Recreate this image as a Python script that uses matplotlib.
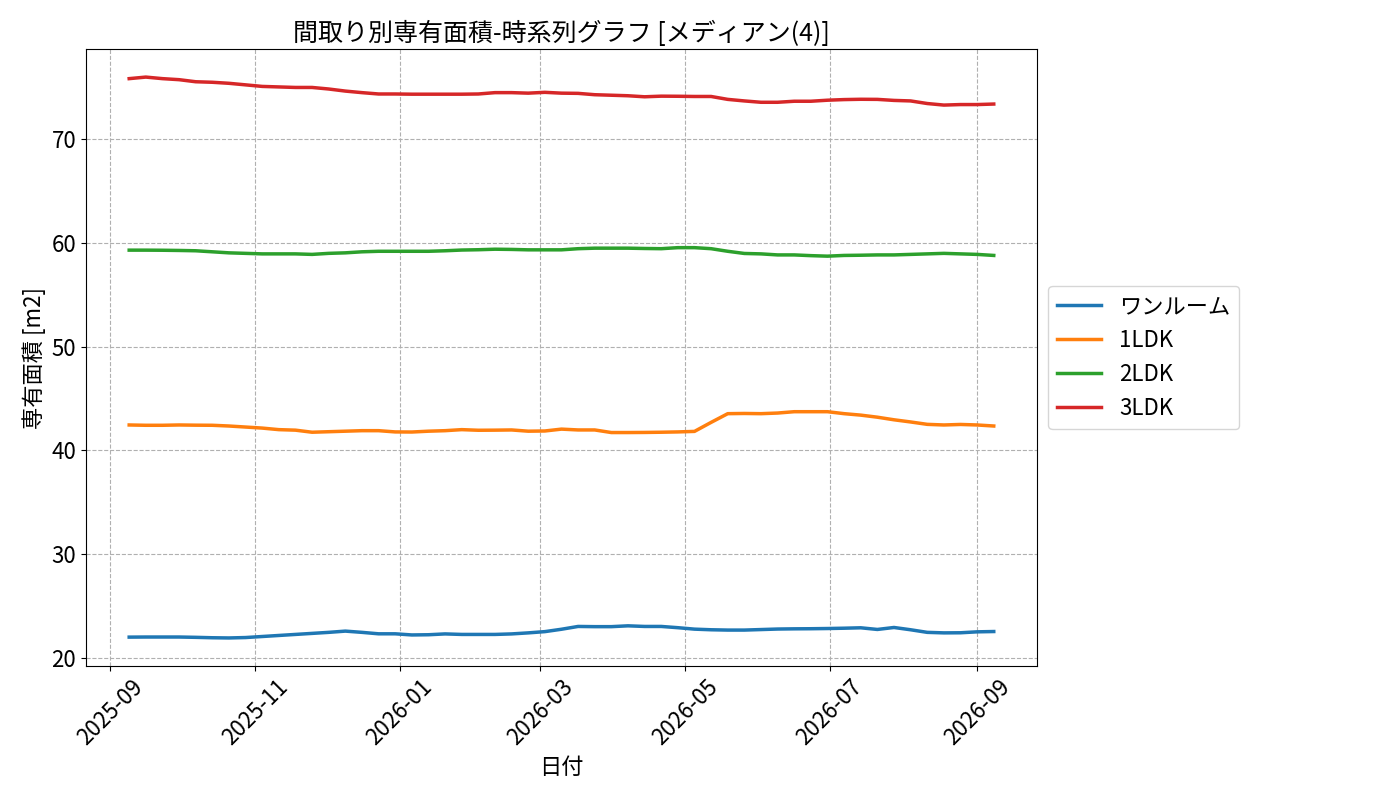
import matplotlib
matplotlib.use("Agg")
import matplotlib.pyplot as plt
import matplotlib.dates as mdates
import pandas as pd

plt.rcParams['font.family'] = ['Noto Sans CJK JP', 'DejaVu Sans']

dates = pd.date_range("2025-09-09", periods=53, freq="7D")

series_names = ["ワンルーム", "1LDK", "2LDK", "3LDK"]

one_room = [21.99, 22.0, 22.0, 22.0, 21.97, 21.93, 21.91, 21.95, 22.05, 22.15,
            22.25, 22.35, 22.45, 22.57, 22.45, 22.31, 22.31, 22.2, 22.22, 22.3,
            22.25, 22.25, 22.25, 22.3, 22.4, 22.52, 22.75, 23.02, 23.0, 23.0,
            23.08, 23.02, 23.02, 22.9, 22.76, 22.7, 22.67, 22.67, 22.72, 22.77,
            22.79, 22.8, 22.82, 22.85, 22.89, 22.73, 22.92, 22.7, 22.45, 22.4,
            22.41, 22.5, 22.53]

ldk1 = [42.45, 42.42, 42.42, 42.45, 42.43, 42.42, 42.35, 42.25, 42.15, 42.0,
        41.95, 41.75, 41.8, 41.85, 41.9, 41.9, 41.78, 41.77, 41.85, 41.9,
        42.0, 41.94, 41.95, 41.97, 41.85, 41.87, 42.05, 41.97, 41.97, 41.72,
        41.72, 41.73, 41.75, 41.78, 41.83, 42.7, 43.54, 43.56, 43.54, 43.6,
        43.73, 43.73, 43.73, 43.54, 43.4, 43.2, 42.95, 42.74, 42.51, 42.45,
        42.5, 42.45, 42.35]

ldk2 = [59.31, 59.31, 59.3, 59.28, 59.25, 59.15, 59.05, 59.0, 58.95, 58.95,
        58.95, 58.9, 59.0, 59.05, 59.15, 59.2, 59.2, 59.2, 59.2, 59.25,
        59.32, 59.35, 59.4, 59.38, 59.34, 59.34, 59.34, 59.45, 59.5, 59.5,
        59.5, 59.47, 59.45, 59.55, 59.55, 59.45, 59.2, 58.99, 58.95, 58.85,
        58.85, 58.78, 58.73, 58.8, 58.82, 58.85, 58.85, 58.9, 58.95, 59.0,
        58.95, 58.9, 58.8]

ldk3 = [75.85, 76.0, 75.85, 75.75, 75.55, 75.5, 75.4, 75.25, 75.1, 75.05,
        75.0, 75.0, 74.85, 74.65, 74.5, 74.37, 74.37, 74.35, 74.35, 74.35,
        74.35, 74.37, 74.5, 74.5, 74.45, 74.53, 74.45, 74.43, 74.3, 74.25,
        74.2, 74.1, 74.16, 74.15, 74.13, 74.13, 73.85, 73.7, 73.57, 73.57,
        73.67, 73.67, 73.77, 73.83, 73.86, 73.85, 73.75, 73.7, 73.45, 73.3,
        73.35, 73.35, 73.4]

all_series = [one_room, ldk1, ldk2, ldk3]
colors = ["#1f77b4", "#ff7f0e", "#2ca02c", "#d62728"]

fig = plt.figure(figsize=(14, 8), dpi=100)
ax = fig.add_axes([0.0614, 0.1675, 0.6793, 0.7712])

for name, vals, c in zip(series_names, all_series, colors):
    ax.plot(dates, vals, label=name, color=c, linewidth=2.5)

ax.xaxis.set_major_locator(mdates.MonthLocator(bymonth=[1, 3, 5, 7, 9, 11]))
ax.xaxis.set_major_formatter(mdates.DateFormatter("%Y-%m"))
for lbl in ax.get_xticklabels():
    lbl.set_rotation(45)

ax.tick_params(axis='both', labelsize=16)
ax.grid(True, linestyle='--', color='#b0b0b0', linewidth=0.8)

ax.set_title("間取り別専有面積-時系列グラフ [メディアン(4)]", fontsize=18)
ax.set_xlabel("日付", fontsize=16)
ax.set_ylabel("専有面積 [m2]", fontsize=16)

ax.legend(loc='center left', bbox_to_anchor=(1.0, 0.5), fontsize=16)

fig.savefig("out.png", dpi=100)
